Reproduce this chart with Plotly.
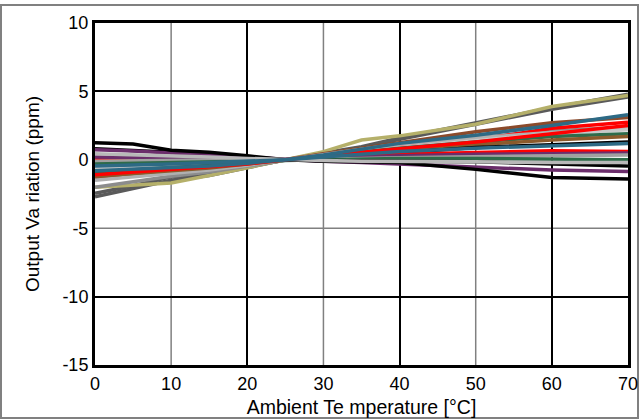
import plotly.graph_objects as go

temps = [0, 5, 10, 15, 20, 25, 30, 35, 40, 50, 60, 70]

series_colors = [
    "#5a5a5a", "#5a5a5a", "#b5b06a", "#8c8c8c", "#8b4a2b", "#ff0000",
    "#b0b0b0", "#c8c8c8", "#2e6b4a", "#8b5a2b", "#000000", "#ff0000",
    "#6b2d6b", "#a0a0a0", "#2e6b4a", "#000000", "#6b2d6b", "#000000",
    "#b8b8b8", "#ff0000", "#2d6a85", "#2d6a85",
]

s01 = [-2.7, -2.1, -1.5, -1.15, -0.55, 0, 0.5, 0.95, 1.6, 2.7, 3.8, 4.8]
s02 = [-2.45, -1.9, -1.25, -1.05, -0.5, 0, 0.45, 0.9, 1.5, 2.6, 3.7, 4.6]
s03 = [-2.0, -1.85, -1.7, -1.15, -0.6, 0, 0.6, 1.45, 1.75, 2.6, 3.9, 4.7]
s04 = [-2.0, -1.6, -1.2, -0.9, -0.45, 0, 0.4, 0.8, 1.1, 1.6, 2.1, 2.4]
s05 = [-1.3, -1.1, -0.9, -0.65, -0.35, 0, 0.45, 0.85, 1.3, 2.05, 2.7, 3.1]
s06 = [-1.0, -0.85, -0.7, -0.5, -0.25, 0, 0.35, 0.7, 1.1, 1.45, 2.3, 2.75]
s07 = [-1.5, -1.25, -1.0, -0.75, -0.4, 0, 0.4, 0.8, 1.15, 1.6, 2.0, 2.3]
s08 = [-0.6, -0.5, -0.4, -0.3, -0.15, 0, 0.3, 0.6, 0.9, 1.4, 1.9, 2.2]
s09 = [-0.9, -0.75, -0.6, -0.45, -0.25, 0, 0.3, 0.55, 0.85, 1.3, 1.7, 1.9]
s10 = [-1.2, -1.0, -0.8, -0.6, -0.3, 0, 0.3, 0.5, 0.75, 1.1, 1.45, 1.7]
s11 = [-0.2, -0.15, -0.1, -0.05, -0.02, 0, 0.15, 0.35, 0.55, 0.9, 1.1, 1.3]
s12 = [0.07, 0.05, 0.03, 0.02, 0.01, 0, 0.1, 0.3, 0.4, 0.55, 0.66, 0.6]
s13 = [0.2, 0.15, 0.1, 0.06, 0.03, 0, 0.1, 0.2, 0.3, 0.4, 0.45, 0.5]
s14 = [-0.1, -0.08, -0.05, -0.03, -0.01, 0, 0.05, 0.1, 0.15, 0.25, 0.3, 0.35]
s15 = [-0.3, -0.25, -0.2, -0.12, -0.06, 0, 0.05, 0.08, 0.1, 0.1, 0.05, 0.0]
s16 = [0.8, 0.7, 0.55, 0.4, 0.2, 0, -0.05, -0.1, -0.1, -0.15, -0.3, -0.45]
s17 = [0.73, 0.65, 0.5, 0.35, 0.18, 0, -0.1, -0.2, -0.3, -0.55, -0.75, -0.85]
s18 = [1.25, 1.15, 0.7, 0.55, 0.3, 0, -0.1, -0.15, -0.2, -0.7, -1.3, -1.4]
s19 = [0.44, 0.38, 0.3, 0.2, 0.1, 0, -0.05, -0.1, -0.1, -0.15, -0.2, -0.2]
s20 = [-1.1, -0.9, -0.75, -0.55, -0.3, 0, 0.3, 0.55, 0.8, 1.3, 1.9, 2.5]
s21 = [-0.8, -0.7, -0.6, -0.45, -0.25, 0, 0.35, 0.75, 1.2, 1.8, 2.5, 3.3]
s22 = [-0.45, -0.4, -0.3, -0.2, -0.1, 0, 0.2, 0.4, 0.6, 0.85, 1.05, 1.2]

series_values = [s01, s02, s03, s04, s05, s06, s07, s08, s09, s10, s11,
                 s12, s13, s14, s15, s16, s17, s18, s19, s20, s21, s22]

x_ticks = [0, 10, 20, 30, 40, 50, 60, 70]
x_tick_labels = ["0", "10", "20", "30", "40", "50", "60", "70"]
y_ticks = [-15, -10, -5, 0, 5, 10]
y_tick_labels = ["-15", "-10", "-5", "0", "5", "10"]
x_dark_grid = [20, 40, 60]
x_light_grid = [10, 30, 50]
y_dark_grid = [5, -10]
y_light_grid = [0, -5]

fig = go.Figure()
for vals, col in zip(series_values, series_colors):
    fig.add_trace(go.Scatter(x=temps, y=vals, mode="lines",
                             line=dict(color=col, width=3.5), showlegend=False))

# outer frame
shapes = [dict(type="rect", xref="paper", yref="paper",
               x0=(1 - 95) / 533, x1=(638 - 95) / 533,
               y0=(365 - 418) / 342, y1=(365 - 5) / 342,
               line=dict(color="#808080", width=2), layer="below")]
# light (gray) grid lines, below traces
for xv in x_light_grid:
    shapes.append(dict(type="line", xref="x", yref="paper", x0=xv, x1=xv, y0=0, y1=1,
                       line=dict(color="#808080", width=1.5), layer="below"))
for yv in y_light_grid:
    shapes.append(dict(type="line", xref="paper", yref="y", x0=0, x1=1, y0=yv, y1=yv,
                       line=dict(color="#808080", width=1.5), layer="below"))

font = dict(family="Liberation Sans, Arial, sans-serif", size=18, color="#000000")

fig.update_layout(
    width=640, height=420,
    margin=dict(l=95, r=12, t=23, b=55),
    paper_bgcolor="white", plot_bgcolor="white",
    font=font,
    shapes=shapes,
    xaxis=dict(range=[0, 70], tickvals=x_ticks, ticktext=x_tick_labels,
               showgrid=False, automargin=False,
               minor=dict(tickvals=x_dark_grid, showgrid=True, gridcolor="#000000", gridwidth=1.5),
               zeroline=False, showline=True, linecolor="#000000", linewidth=3, mirror=True,
               ticks="",
               title=dict(text="Ambient Te mperature [°C]", standoff=8, font=dict(size=19.5))),
    yaxis=dict(range=[-15, 10], tickvals=y_ticks, ticktext=y_tick_labels,
               showgrid=False, automargin=False,
               minor=dict(tickvals=y_dark_grid, showgrid=True, gridcolor="#000000", gridwidth=1.5),
               zeroline=False, showline=True, linecolor="#000000", linewidth=3, mirror=True,
               ticks="",
               title=dict(text="Output Va riation (ppm)", standoff=18, font=dict(size=19))),
)

fig.write_html("out.html")
